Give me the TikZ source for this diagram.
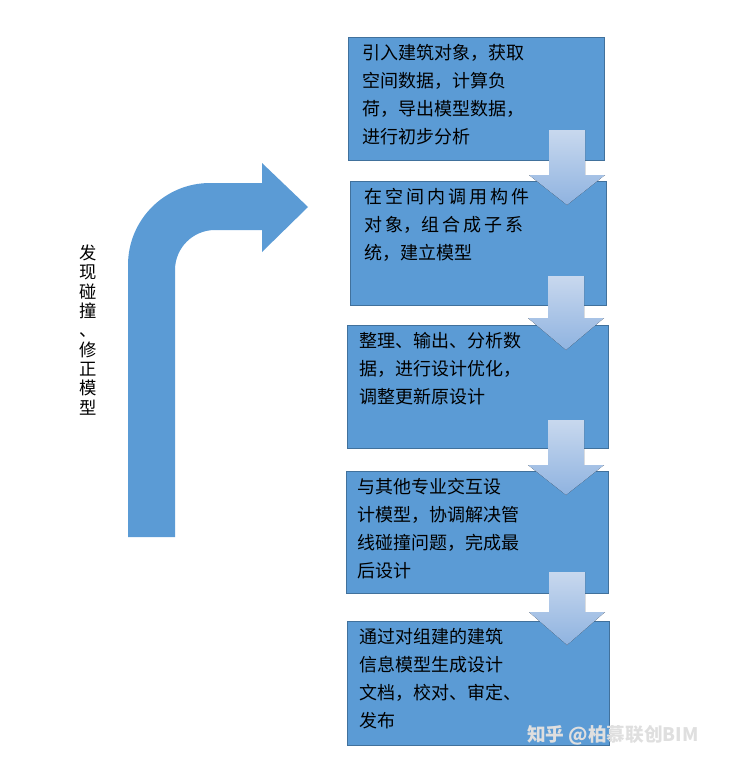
\documentclass[tikz,border=0pt]{standalone}
\usepackage{fontspec}
\newfontfamily\cjk{Noto Sans CJK SC}
\begin{document}
\begin{tikzpicture}[x=0.75pt,y=-0.75pt,
  box/.style={draw=boxedge,fill=boxfill,line width=1pt,anchor=north west,inner sep=0pt},
  txt/.style={anchor=north west,align=left,font=\cjk\fontsize{13.5}{21}\selectfont,inner sep=0pt},
  darr/.style={top color=arrtop,bottom color=arrbot,draw=none}]
\definecolor{boxfill}{RGB}{91,155,213}
\definecolor{boxedge}{RGB}{65,113,156}
\definecolor{arrtop}{RGB}{200,216,238}
\definecolor{arrbot}{RGB}{143,179,224}
\useasboundingbox (0,0) rectangle (747,767);
% bent arrow
\fill[boxfill] (128,537) -- (128,265) arc[start angle=180,end angle=270,radius=82] -- (262,183) -- (262,163) -- (308,207) -- (262,252) -- (262,230) -- (215,230) arc[start angle=270,end angle=180,radius=40] -- (175,537) -- cycle;
\node[inner sep=0pt,align=center,font=\cjk\fontsize{13}{14.5}\selectfont] (v) at (88,330) {发\\现\\碰\\撞\\、\\修\\正\\模\\型};
% boxes
\node[box,minimum width=192pt,minimum height=92.25pt] (b1) at (348,37) {};
\node[box,minimum width=192pt,minimum height=93pt] (b2) at (350,181) {};
\node[box,minimum width=195.75pt,minimum height=92.25pt] (b3) at (347,325) {};
\node[box,minimum width=196.5pt,minimum height=91.5pt] (b4) at (346,471) {};
\node[box,minimum width=196.5pt,minimum height=93pt] (b5) at (347,621) {};
\node[txt] (t1) at (362,44) {引入建筑对象，获取\\空间数据，计算负\\荷，导出模型数据，\\进行初步分析};
\node[txt] (t2) at (364,188) {在\,空\,间\,内\,调\,用\,构\,件\\对\,象，组\,合\,成\,子\,系\\统，建立模型};
\node[txt] (t3) at (359,332) {整理、输出、分析数\\据，进行设计优化，\\调整更新原设计};
\node[txt] (t4) at (357,478) {与其他专业交互设\\计模型，协调解决管\\线碰撞问题，完成最\\后设计};
\node[txt] (t5) at (359,628) {通过对组建的建筑\\信息模型生成设计\\文档，校对、审定、\\发布};
% down arrows
\foreach \x/\ya/\yb/\yc in {567/130/175/205, 566/276/318/350, 566/420/465/495, 567/572/612/645}{
  \fill[darr] (\x-18,\ya) -- (\x+18,\ya) -- (\x+18,\yb) -- (\x+38,\yb) -- (\x,\yc) -- (\x-38,\yb) -- (\x-18,\yb) -- cycle;
}
\node[anchor=west,text=gray!25,font=\cjk\bfseries\fontsize{14}{16}\selectfont,inner sep=0pt] (wm) at (527,735) {知乎 @柏慕联创BIM};
\end{tikzpicture}
\end{document}
